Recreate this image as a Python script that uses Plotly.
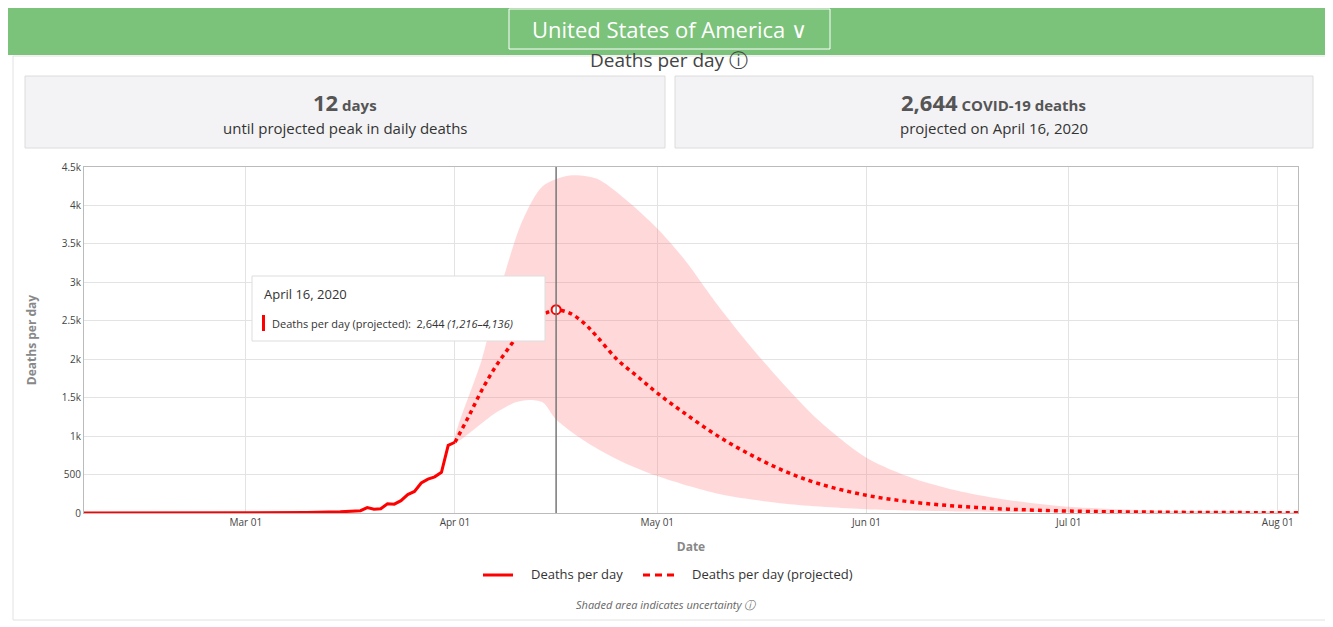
import plotly.graph_objects as go

actual_dates = ["2020-02-06","2020-02-20","2020-03-01","2020-03-10","2020-03-15","2020-03-16","2020-03-17","2020-03-18","2020-03-19","2020-03-20","2020-03-21","2020-03-22","2020-03-23","2020-03-24","2020-03-25","2020-03-26","2020-03-27","2020-03-28","2020-03-29","2020-03-30","2020-03-31","2020-04-01"]
actual_vals = [0,0,2,5,15,20,25,30,70,50,55,120,115,160,240,280,390,440,470,530,880,920]

proj_dates = ["2020-04-01","2020-04-03","2020-04-05","2020-04-07","2020-04-09","2020-04-11","2020-04-13","2020-04-15","2020-04-16","2020-04-18","2020-04-20","2020-04-22","2020-04-25","2020-04-28","2020-05-01","2020-05-05","2020-05-10","2020-05-15","2020-05-20","2020-05-25","2020-06-01","2020-06-08","2020-06-15","2020-06-22","2020-07-01","2020-07-15","2020-08-04"]
proj_vals = [920,1250,1600,1900,2150,2380,2530,2620,2644,2600,2480,2300,2000,1780,1560,1300,1000,750,540,380,230,140,85,50,25,10,3]

upper_dates = ["2020-04-01","2020-04-05","2020-04-08","2020-04-11","2020-04-14","2020-04-18","2020-04-22","2020-04-26","2020-05-01","2020-05-05","2020-05-10","2020-05-15","2020-05-20","2020-05-25","2020-06-01","2020-06-08","2020-06-15","2020-06-22","2020-07-01","2020-07-15","2020-08-04"]
upper_vals = [920,2000,3000,3800,4250,4390,4350,4100,3700,3300,2700,2150,1650,1200,720,450,280,170,80,30,8]
lower_dates = ["2020-04-01","2020-04-04","2020-04-07","2020-04-10","2020-04-12","2020-04-14","2020-04-16","2020-04-20","2020-04-25","2020-05-01","2020-05-10","2020-05-20","2020-06-01","2020-06-15","2020-07-01","2020-08-04"]
lower_vals = [920,1100,1300,1440,1470,1440,1216,950,700,480,250,120,50,20,8,1]

x_ticks = ["2020-03-01","2020-04-01","2020-05-01","2020-06-01","2020-07-01","2020-08-01"]
x_labels = ["Mar 01","Apr 01","May 01","Jun 01","Jul 01","Aug 01"]
y_ticks = [0,500,1000,1500,2000,2500,3000,3500,4000,4500]
y_labels = ["0","500","1k","1.5k","2k","2.5k","3k","3.5k","4k","4.5k"]

FONT = "Open Sans, Arial, sans-serif"
W, H = 1333, 627
OFF = 8  # page body margin
L, R, T, B = 84, 1298, 167, 513
def px(x): return (x - L) / (R - L)
def py(y): return (B - y) / (B - T)

fig = go.Figure()
fig.add_trace(go.Scatter(x=upper_dates + lower_dates[::-1], y=upper_vals + lower_vals[::-1], mode="lines",
                         line=dict(width=0, shape="spline", smoothing=0.8), fill="toself", fillcolor="rgba(255,130,130,0.3)",
                         showlegend=False, hoverinfo="skip"))
fig.add_trace(go.Scatter(x=actual_dates, y=actual_vals, mode="lines", line=dict(color="#ff0000", width=3), showlegend=False))
fig.add_trace(go.Scatter(x=proj_dates, y=proj_vals, mode="lines", line=dict(color="#ff0000", width=3.5, dash="4px,4px", shape="spline"), showlegend=False))
fig.add_trace(go.Scatter(x=["2020-04-16"], y=[2644], mode="markers", marker=dict(color="white", size=9, line=dict(color="#ff0000", width=2)), showlegend=False))

shapes = []
ann = []
def A(x, y, text, size, color, xanchor="center", **kw):
    ann.append(dict(xref="paper", yref="paper", x=px(x), y=py(y), text=text, showarrow=False, xanchor=xanchor, yanchor="middle",
                    font=dict(size=size, color=color, family=FONT), **kw))

# title (partly under header)
A(669, 60, "Deaths per day ⓘ", 19, "#444")
# green header
shapes.append(dict(type="rect", xref="paper", yref="paper", x0=px(-10), x1=px(W), y0=py(55), y1=py(-10), fillcolor="#7bc27a", line=dict(width=0), layer="above"))
shapes.append(dict(type="rect", xref="paper", yref="paper", x0=px(509), x1=px(830), y0=py(49), y1=py(9), fillcolor="rgba(0,0,0,0)", line=dict(color="white", width=1), layer="above"))
A(669, 29, "United States of America ∨", 22, "white")
# cards
for x0, x1 in [(25, 665), (675, 1313)]:
    shapes.append(dict(type="rect", xref="paper", yref="paper", x0=px(x0), x1=px(x1), y0=py(148), y1=py(76), fillcolor="#f3f3f5", line=dict(color="#dcdcdc", width=1), layer="below"))
A(345, 102, "<b><span style='font-size:22px'>12</span> days</b>", 15, "#555")
A(345, 128, "until projected peak in daily deaths", 15, "#333")
A(994, 102, "<b><span style='font-size:22px'>2,644</span> COVID-19 deaths</b>", 15, "#555")
A(994, 128, "projected on April 16, 2020", 15, "#333")
# vertical hover line
shapes.append(dict(type="line", xref="x", yref="paper", x0="2020-04-16", x1="2020-04-16", y0=0, y1=1, line=dict(color="#777", width=1.5)))
# tooltip
shapes.append(dict(type="rect", xref="paper", yref="paper", x0=px(252), x1=px(545), y0=py(341), y1=py(276), fillcolor="white", line=dict(color="#ddd", width=1), layer="above"))
shapes.append(dict(type="rect", xref="paper", yref="paper", x0=px(262), x1=px(265), y0=py(331), y1=py(315), fillcolor="#ff0000", line=dict(width=0), layer="above"))
A(262, 294, "April 16, 2020", 13, "#333", xanchor="left")
A(270, 323, "Deaths per day (projected):  2,644 <i>(1,216–4,136)</i>", 11, "#333", xanchor="left")
# legend
shapes.append(dict(type="line", xref="paper", yref="paper", x0=px(483), x1=px(513), y0=py(575), y1=py(575), line=dict(color="#ff0000", width=3)))
shapes.append(dict(type="line", xref="paper", yref="paper", x0=px(643), x1=px(675), y0=py(575), y1=py(575), line=dict(color="#ff0000", width=3, dash="7px,5px")))
A(529, 574, "Deaths per day", 13, "#333", xanchor="left")
A(690, 574, "Deaths per day (projected)", 13, "#333", xanchor="left")
A(666, 604, "<i>Shaded area indicates uncertainty ⓘ</i>", 11, "#666")
# outer card
shapes.append(dict(type="rect", xref="paper", yref="paper", x0=px(13), x1=px(1326), y0=py(620), y1=py(56), fillcolor="rgba(0,0,0,0)", line=dict(color="#e2e2e2", width=1), layer="below"))

fig.update_layout(
    width=W, height=H, margin=dict(l=L - OFF, r=W - R + OFF, t=T - OFF, b=H - B + OFF),
    plot_bgcolor="white", paper_bgcolor="white", showlegend=False,
    font=dict(family=FONT, color="#444"),
    shapes=shapes, annotations=ann,
    xaxis=dict(range=["2020-02-06", "2020-08-04"], tickvals=x_ticks, ticktext=x_labels, showgrid=True, gridcolor="#e3e3e3",
               tickfont=dict(size=10, color="#444"), title=dict(text="<b>Date</b>", font=dict(size=12, color="#888"), standoff=14),
               showline=True, linecolor="#bbb", mirror=True, zeroline=False, ticks=""),
    yaxis=dict(range=[0, 4500], tickvals=y_ticks, ticktext=y_labels, showgrid=True, gridcolor="#e3e3e3",
               tickfont=dict(size=10, color="#444"), title=dict(text="<b>Deaths per day</b>", font=dict(size=12, color="#888"), standoff=22),
               showline=True, linecolor="#bbb", mirror=True, zeroline=False, ticks=""),
)
fig.write_html("out.html")
